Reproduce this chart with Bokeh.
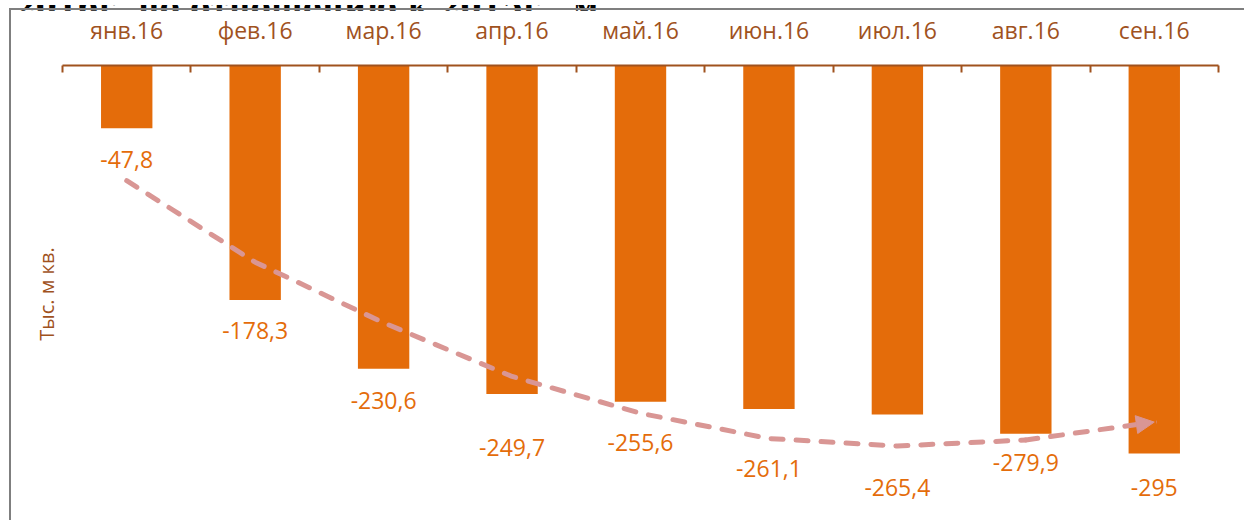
import math
from bokeh.plotting import figure
from bokeh.layouts import column
from bokeh.models import (ColumnDataSource, FixedTicker, Range1d, Arrow, NormalHead, Div)
from bokeh.core.properties import value
from bokeh.embed import file_html
from bokeh.resources import INLINE

# ---- data ----
categories = ["янв.16", "фев.16", "мар.16", "апр.16", "май.16", "июн.16", "июл.16", "авг.16", "сен.16"]
values = [-47.8, -178.3, -230.6, -249.7, -255.6, -261.1, -265.4, -279.9, -295.0]
# hand-drawn trend arrow, read at each month
trend = [-87.6, -149.5, -195.6, -236.4, -264.4, -283.6, -289.3, -284.7, -271.1]
title_text = "2016г. по отношению к 2015г., м"
y_label = "Тыс. м кв."

# ---- styling ----
label_offset_px = [31, 30, 32, 54, 41, 60, 73, 29, 34]
BAR = "#E46C0A"
BROWN = "#A0521E"
PINK = "#D99694"
GRAY = "#7F7F7F"
FONT = "Open Sans"
PX_Y = 1.324    # pixels per unit
TITLE_H = 10
PLOT_W, PLOT_H = 1235, 512
BORDER_TOP = 52      # canvas top (12) -> frame top (64)
BORDER_LEFT = 51     # canvas left (11) -> frame left (62)
BORDER_RIGHT = 28

xs = [i + 0.5 for i in range(len(categories))]
labels = [f"{v:g}".replace(".", ",") for v in values]

src = ColumnDataSource(dict(x=xs, v=values, lab=labels, off=label_offset_px))

frame_h = PLOT_H - BORDER_TOP
p = figure(width=PLOT_W, height=PLOT_H, output_backend="svg", toolbar_location=None,
           x_range=Range1d(0, len(categories)), y_range=Range1d(-frame_h / PX_Y, 0),
           x_axis_location="above", min_border_left=BORDER_LEFT, min_border_right=BORDER_RIGHT,
           min_border_top=BORDER_TOP, min_border_bottom=0)
p.styles = {"margin-left": "9px", "margin-top": "-12px",
            "border-left": f"2px solid {GRAY}", "border-top": f"2px solid {GRAY}"}
p.outline_line_color = None
p.grid.visible = False
p.background_fill_color = "white"
p.border_fill_color = "white"

# y axis: only its title is shown
ya = p.yaxis[0]
ya.ticker = FixedTicker(ticks=[])
ya.axis_label = y_label
ya.axis_label_text_font = FONT
ya.axis_label_text_font_size = "20px"
ya.axis_label_text_font_style = "normal"
ya.axis_label_text_color = BROWN
ya.axis_label_standoff = 3
ya.axis_line_color = None
ya.major_tick_line_color = None
ya.minor_tick_line_color = None
ya.major_label_standoff = 0

ax = p.xaxis[0]
ax.ticker = FixedTicker(ticks=xs, minor_ticks=list(range(len(categories) + 1)))
ax.major_label_overrides = {x: c for x, c in zip(xs, categories)}
ax.major_tick_line_color = None
ax.major_tick_in = 0
ax.major_tick_out = 0
ax.minor_tick_in = 7
ax.minor_tick_out = 0
ax.minor_tick_line_color = BROWN
ax.minor_tick_line_width = 2
ax.axis_line_color = BROWN
ax.axis_line_width = 2
ax.major_label_text_font = FONT
ax.major_label_text_font_size = "23px"
ax.major_label_text_color = BROWN
ax.major_label_standoff = 20

p.vbar(x="x", top=0, bottom="v", width=0.4, source=src, fill_color=BAR, line_color=None)

p.text(x="x", y="v", text="lab", y_offset="off", source=src, text_align="center",
       text_baseline="middle", text_color=BAR, text_font=value(FONT), text_font_size="23px")

# trend arrow
p.line(xs[:-1], trend[:-1], line_color=PINK, line_width=5, line_dash="12 13", line_cap="round")
p.add_layout(Arrow(x_start=xs[-2], y_start=trend[-2], x_end=xs[-1], y_end=trend[-1],
                   line_color=PINK, line_width=5, line_dash="12 13", line_cap="round",
                   end=NormalHead(size=18, fill_color=PINK, line_color=PINK)))

# chart title, cut off at the top of the page as in the reference
title = Div(text=(f"<div style=\"font-family:'DejaVu Serif';font-weight:bold;font-size:30px;"
                  f"line-height:30px;white-space:nowrap;margin-top:-28px;margin-left:10px;color:black\">"
                  f"{title_text}</div>"),
            width=1248, height=TITLE_H, styles={"overflow": "hidden"})

layout = column(title, p, spacing=0)
open("out.html", "w").write(file_html(layout, INLINE))
